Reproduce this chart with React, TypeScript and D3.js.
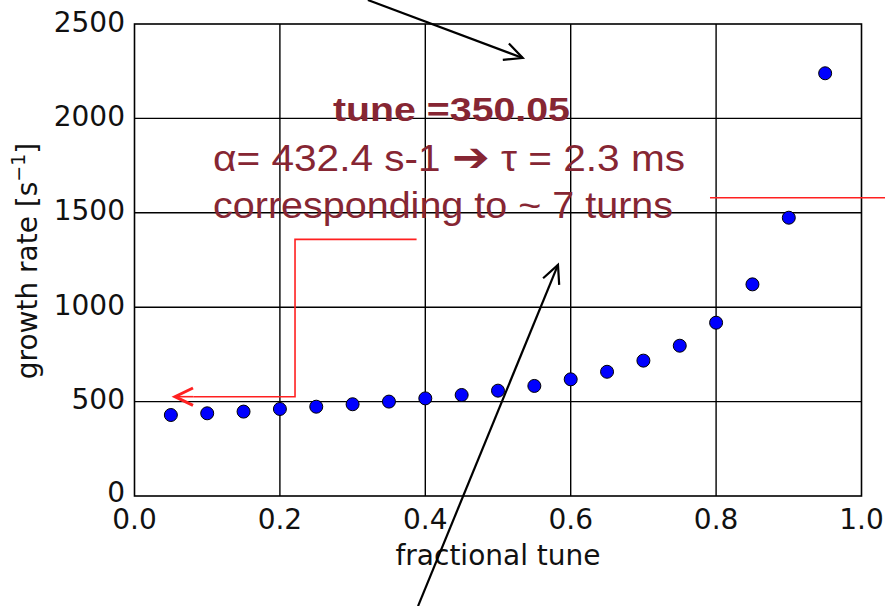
import React from "react";
import * as d3 from "d3";

const tunes = [0.05, 0.1, 0.15, 0.2, 0.25, 0.3, 0.35, 0.4, 0.45, 0.5, 0.55, 0.6, 0.65, 0.7, 0.75, 0.8, 0.85, 0.9, 0.95];
const growth = [429, 438, 447, 461, 473, 486, 500, 517, 535, 558, 583, 618, 658, 717, 796, 918, 1121, 1474, 2239];
const xTicks = [0, 0.2, 0.4, 0.6, 0.8, 1.0];
const yTicks = [0, 500, 1000, 1500, 2000, 2500];

const W = 885, H = 606;
const M = { left: 134.5, right: 861.5, top: 24, bottom: 496 };

const ANN = "#862633";

function arrowHead(tx: number, ty: number, fx: number, fy: number, len: number, ang: number) {
  const a = Math.atan2(fy - ty, fx - tx);
  const p1 = [tx + len * Math.cos(a + ang), ty + len * Math.sin(a + ang)];
  const p2 = [tx + len * Math.cos(a - ang), ty + len * Math.sin(a - ang)];
  return `M${p1[0]},${p1[1]}L${tx},${ty}L${p2[0]},${p2[1]}`;
}

export default function App() {
  const x = d3.scaleLinear().domain([0, 1]).range([M.left, M.right]);
  const y = d3.scaleLinear().domain([0, 2500]).range([M.bottom, M.top]);

  const redPath = d3.line()([
    [x(0.388), y(1359)],
    [x(0.2208), y(1359)],
    [x(0.2208), y(526)],
    [x(0.081), y(526)],
  ]);
  const redTip = [x(0.0557), y(526)];
  const a1 = { fx: x(0.321), fy: y(2627), tx: x(0.534), ty: y(2320) };
  const a2 = { fx: x(0.39), fy: y(-583), tx: x(0.5825), ty: y(1224) };

  return (
    <svg width={W} height={H} style={{ position: "absolute", left: 0, top: 0, background: "#fff" }}
      fontFamily="'DejaVu Sans', sans-serif">
      <rect x={0} y={0} width={W} height={H} fill="#fff" />
      {xTicks.slice(1, -1).map((t) => (
        <line key={"gx" + t} x1={x(t)} x2={x(t)} y1={M.top} y2={M.bottom} stroke="#000" strokeWidth={1.4} />
      ))}
      {yTicks.slice(1, -1).map((t) => (
        <line key={"gy" + t} x1={M.left} x2={M.right} y1={y(t)} y2={y(t)} stroke="#000" strokeWidth={1.4} />
      ))}
      <rect x={M.left} y={M.top} width={M.right - M.left} height={M.bottom - M.top} fill="none" stroke="#000" strokeWidth={1.6} />
      {xTicks.map((t) => (
        <text key={"tx" + t} x={x(t)} y={529} textAnchor="middle" fontSize={28} fill="#111">{d3.format(".1f")(t)}</text>
      ))}
      {yTicks.map((t) => (
        <text key={"ty" + t} x={125} y={y(t) - (t === 0 ? 4 : 2)} textAnchor="end" dominantBaseline="central" fontSize={28} fill="#111">{t}</text>
      ))}
      <text x={(M.left + M.right) / 2} y={565} textAnchor="middle" fontSize={28} fill="#111">fractional tune</text>
      <text transform={`translate(37,${(M.top + M.bottom) / 2 + 1}) rotate(-90)`} textAnchor="middle" fontSize={28} fill="#111">
        growth rate [s<tspan dy={-12} fontSize={19}>−1</tspan><tspan dy={12}>]</tspan>
      </text>
      {tunes.map((t, i) => (
        <circle key={"p" + i} cx={x(t)} cy={y(growth[i])} r={6.5} fill="#0000ff" stroke="#000" strokeWidth={1} />
      ))}
      <g fontFamily="'Liberation Sans', Arial, sans-serif" fill={ANN}>
        <text x={x(0.273)} y={y(1984)} fontSize={34} fontWeight="bold" textLength={237} lengthAdjust="spacingAndGlyphs">tune =350.05</text>
        <text x={x(0.108)} y={y(1721)} fontSize={36} textLength={472} lengthAdjust="spacingAndGlyphs">α= 432.4 s-1 <tspan fontFamily="'DejaVu Sans'" fontWeight="bold" fontSize={40}>➔</tspan> τ = 2.3 ms</text>
        <text x={x(0.108)} y={y(1472)} fontSize={36} textLength={460} lengthAdjust="spacingAndGlyphs">corresponding to ~ 7 turns</text>
      </g>
      <path d={redPath ?? ""} fill="none" stroke="#ff2020" strokeWidth={1.6} />
      <line x1={redTip[0]} y1={redTip[1]} x2={x(0.081)} y2={redTip[1]} stroke="#ff2020" strokeWidth={1.6} />
      <path d={arrowHead(redTip[0], redTip[1], x(0.3), redTip[1], 20, 0.45)} fill="none" stroke="#ff2020" strokeWidth={3} />
      <line x1={x(0.7916)} y1={y(1580)} x2={W} y2={y(1580)} stroke="#ff2020" strokeWidth={1.6} />
      <line x1={a1.fx} y1={a1.fy} x2={a1.tx} y2={a1.ty} stroke="#000" strokeWidth={2.2} />
      <path d={arrowHead(a1.tx, a1.ty, a1.fx, a1.fy, 20, 0.45)} fill="none" stroke="#000" strokeWidth={2.2} />
      <line x1={a2.fx} y1={a2.fy} x2={a2.tx} y2={a2.ty} stroke="#000" strokeWidth={2.2} />
      <path d={arrowHead(a2.tx, a2.ty, a2.fx, a2.fy, 20, 0.45)} fill="none" stroke="#000" strokeWidth={2.2} />
    </svg>
  );
}
